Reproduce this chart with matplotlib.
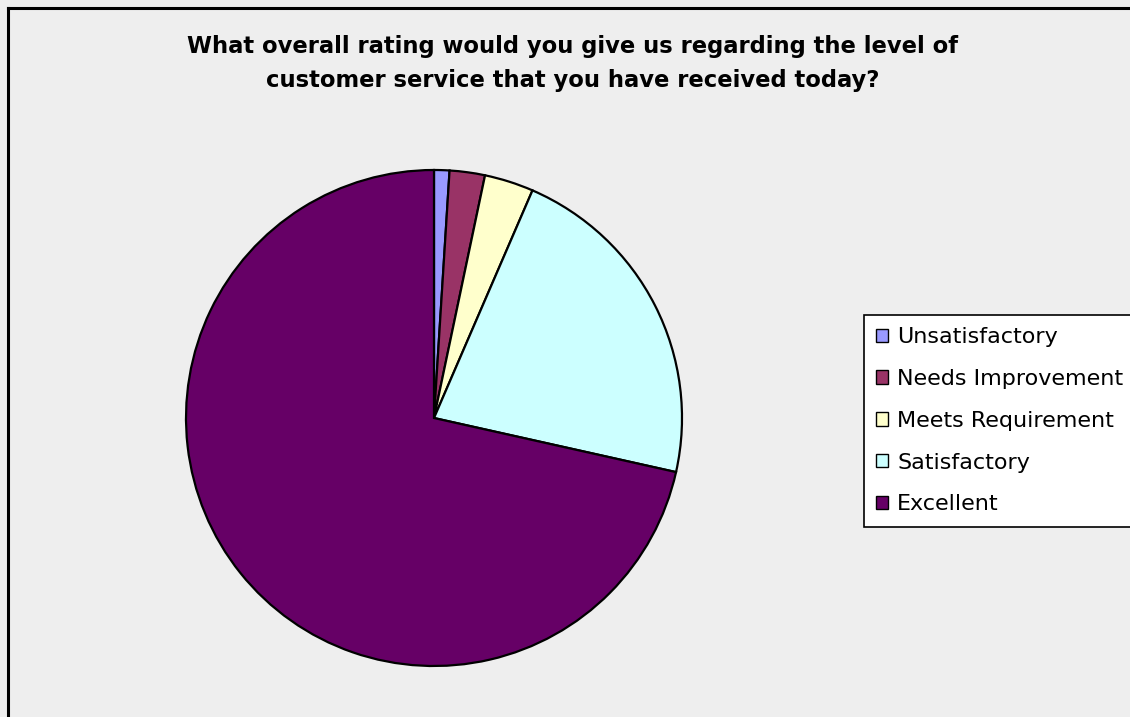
import matplotlib
matplotlib.use('Agg')
import matplotlib.pyplot as plt
from matplotlib.lines import Line2D

# ratings (percent of responses)
labels = ['Unsatisfactory', 'Needs Improvement', 'Meets Requirement',
          'Satisfactory', 'Excellent']
shares = [1.0, 2.3, 3.2, 22.0, 71.5]
colors = ['#9999FF', '#993366', '#FFFFCC', '#CCFFFF', '#660066']

title = ('What overall rating would you give us regarding the level of\n'
         'customer service that you have received today?')

W, H = 1130, 717
fig = plt.figure(figsize=(W / 100, H / 100), dpi=100)
fig.patch.set_facecolor('#EEEEEE')

# chart frame: only top and left edges are visible
fig.add_artist(Line2D([8 / W, 1.0], [1 - 8 / H, 1 - 8 / H], color='black',
                      lw=2.2, transform=fig.transFigure))
fig.add_artist(Line2D([8 / W, 8 / W], [0.0, 1 - 8 / H], color='black',
                      lw=2.2, transform=fig.transFigure))

fig.text(573 / W, 1 - 63.5 / H, title, ha='center', va='center',
         fontsize=16.3, fontweight='bold', linespacing=1.62)

cx, cy, r = 434, 418, 248 * 1.01
ax = fig.add_axes([(cx - r) / W, (H - cy - r) / H, 2 * r / W, 2 * r / H])
ax.set_facecolor('none')
wedges, _ = ax.pie(shares, colors=colors, startangle=90, counterclock=False,
                   radius=1.0,
                   wedgeprops=dict(edgecolor='black', linewidth=1.6))
ax.set_xlim(-1.01, 1.01)
ax.set_ylim(-1.01, 1.01)
ax.set_aspect('equal')
ax.axis('off')

leg = fig.legend(wedges, labels, loc='upper left',
                 bbox_to_anchor=(864 / W, 1 - 315 / H), borderaxespad=0,
                 fontsize=16, frameon=True, fancybox=False,
                 edgecolor='black', facecolor='white', framealpha=1,
                 handlelength=0.55, handleheight=0.55, handletextpad=0.4,
                 labelspacing=0.98, borderpad=0.55)
leg.get_frame().set_linewidth(1.2)
for h in leg.legend_handles:
    h.set_edgecolor('black')
    h.set_linewidth(1.0)

fig.savefig('out.png', dpi=100, facecolor=fig.get_facecolor())
